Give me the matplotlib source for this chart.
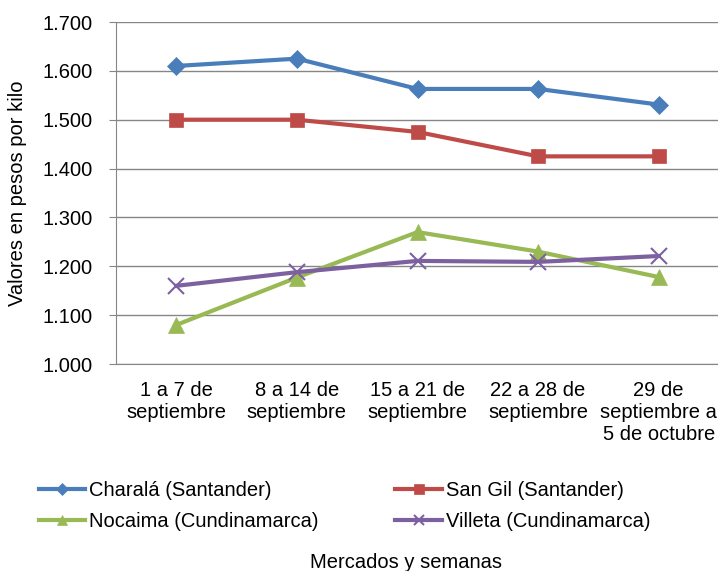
import matplotlib.pyplot as plt
from matplotlib.ticker import FuncFormatter

plt.rcParams['font.family'] = ['Liberation Sans', 'DejaVu Sans']

semanas = ['1 a 7 de\nseptiembre', '8 a 14 de\nseptiembre', '15 a 21 de\nseptiembre',
           '22 a 28 de\nseptiembre', '29 de\nseptiembre a\n5 de octubre']
charala = [1610, 1625, 1563, 1563, 1531]
san_gil = [1500, 1500, 1475, 1425, 1425]
nocaima = [1080, 1177, 1270, 1230, 1178]
villeta = [1160, 1188, 1211, 1209, 1221]

series = [
    ('Charalá (Santander)', charala, '#4A7EBB', 'D', 9),
    ('San Gil (Santander)', san_gil, '#BE4B48', 's', 10),
    ('Nocaima (Cundinamarca)', nocaima, '#98B954', '^', 11),
    ('Villeta (Cundinamarca)', villeta, '#7D60A0', 'x', 11),
]
fs = 14.5

fig = plt.figure(figsize=(7.18, 5.71), dpi=100)
ax = fig.add_axes([116 / 718, 1 - 364 / 571, 603 / 718, 342 / 571])

x = range(len(semanas))
handles = []
for name, vals, color, mk, ms in series:
    h, = ax.plot(x, vals, color=color, lw=3, marker=mk, markersize=ms,
                 markeredgewidth=1.5 if mk == 'x' else 0.5, markeredgecolor=color,
                 label=name, clip_on=False)
    handles.append(h)

ax.set_xlim(-0.5, len(semanas) - 0.5)
ax.set_ylim(1000, 1700)
ax.set_yticks(range(1000, 1701, 100))
ax.yaxis.set_major_formatter(FuncFormatter(lambda v, p: f'{v / 1000:.3f}'))
ax.set_xticks(list(x))
ax.set_xticklabels(semanas, fontsize=fs, linespacing=1.2)
ax.tick_params(axis='y', labelsize=fs, length=5, color='#868686', pad=12)
ax.tick_params(axis='x', length=0, pad=12)
ax.grid(axis='y', color='#868686', lw=1)
ax.set_axisbelow(True)
for s in ['top', 'right']:
    ax.spines[s].set_visible(False)
for s in ['left', 'bottom']:
    ax.spines[s].set_color('#868686')

ax.set_ylabel('Valores en pesos por kilo', fontsize=fs)
ax.yaxis.set_label_coords(-0.148, 0.5)

# row-wise order: Charalá, San Gil / Nocaima, Villeta
order = [handles[0], handles[2], handles[1], handles[3]]
fig.legend(handles=order, loc='upper left', ncol=2,
           bbox_to_anchor=(39 / 718, 1 - 481 / 571), borderpad=0, borderaxespad=0,
           frameon=False, fontsize=fs, handlelength=2.3, columnspacing=3.8,
           handletextpad=0.2, labelspacing=0.6, markerscale=0.7)
fig.text(406 / 718, 1 - 562 / 571, 'Mercados y semanas', ha='center', va='center', fontsize=fs)

fig.savefig('out.png', dpi=100)
